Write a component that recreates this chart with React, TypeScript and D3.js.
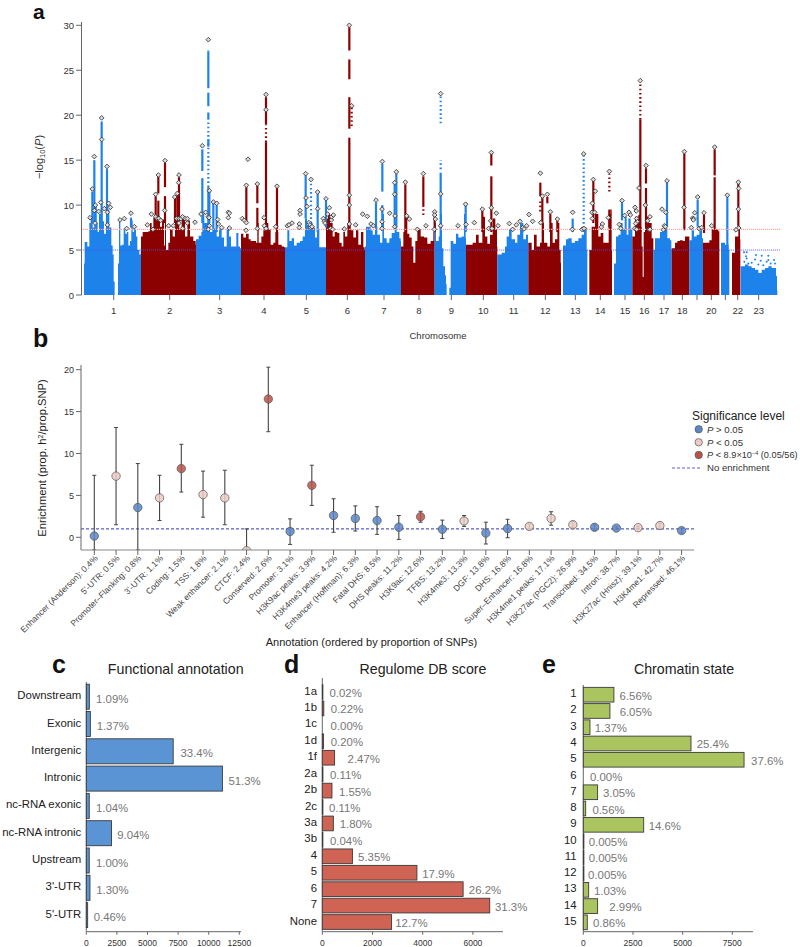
import React from "react";
import * as d3 from "d3";

/* ---------- a: Manhattan data ---------- */
const chromLabels = ["1","2","3","4","5","6","7","8","9","10","11","12","13","14","15","16","17","18","","20","","22","23"];
const chromTicks = [341,509,659,792,919,1042,1152,1257,1354,1450,1541,1636,1726,1801,1875,1933,1992,2047,2091,2134,2176,2213,2276];
const chromEnds = [423,588,723,855,978,1095,1203,1304,1398,1492,1585,1683,1762,1836,1897,1960,2015,2068,2109,2158,2188,2221,2332];
const envelope: [number, number][][] = [
  [[252,3.5],[254,5.9],[262,5.4],[268,8],[272,8.6],[278,7.5],[283,10],[288,8],[293,7],[297,9],[302,9],[307,8.2],[312,6.8],[318,8],[322,9.5],[328,7.5],[334,5.5],[338,4.5],[341,1.5],[344,0],[352,0],[354,3.5],[357,8.3],[361,5.5],[366,5.6],[371,7.3],[376,6.8],[381,7],[385,5.5],[390,6],[394,8.3],[398,7],[402,7.3],[408,6.5],[412,5],[418,4.5],[422,5.2]],
  [[423,6.5],[428,7],[445,7.1],[450,8],[455,7.4],[460,8.6],[470,8.8],[480,7.6],[486,8.4],[492,5.5],[495,9],[498,5],[505,5.8],[510,7.3],[518,6.5],[525,8.4],[532,9],[538,7.3],[545,8.6],[555,6.5],[562,8.3],[570,6.5],[580,6],[587,5.6]],
  [[588,6.2],[596,6.6],[604,7],[607,9],[613,8],[622,8],[630,7],[640,7.4],[650,6.5],[657,7.4],[665,6.4],[672,5.4],[680,7.4],[687,6.5],[693,5.4],[700,5.4],[709,6.9],[715,5.4],[720,5.2]],
  [[723,6.8],[730,6.4],[738,6.8],[746,6.2],[752,6],[760,6],[768,5.8],[772,8],[776,5.8],[784,6.5],[790,7.2],[798,8],[805,7.3],[812,5.6],[820,5.8],[826,7],[835,5.6],[845,5.4],[852,5.3]],
  [[855,5.3],[862,7.2],[868,6],[875,6.3],[882,5.5],[890,5.8],[900,6],[908,6.5],[915,8.5],[921,7.8],[930,8],[938,7.5],[945,6.4],[951,7.3],[958,5.3],[968,5.3],[975,5.3]],
  [[978,8.5],[984,9],[990,8],[998,6.5],[1004,7],[1012,6.9],[1018,5.8],[1025,5.4],[1030,7],[1035,6.5],[1042,8],[1048,8],[1052,7.2],[1060,6.4],[1068,7.2],[1075,5.6],[1083,7],[1090,5.3],[1094,5]],
  [[1095,5.4],[1098,7.6],[1105,7.6],[1112,7.2],[1118,6.7],[1125,7.6],[1132,6.7],[1140,5.8],[1147,9],[1152,6.3],[1160,5.8],[1168,6.3],[1175,6.9],[1184,8],[1190,7],[1198,6.3],[1202,6]],
  [[1203,5.4],[1210,7],[1216,9],[1222,6.8],[1228,6.4],[1235,5.4],[1240,3.6],[1246,6],[1252,7.3],[1262,6.5],[1272,6.4],[1282,5.7],[1292,6],[1300,7],[1303,8]],
  [[1304,8],[1308,6],[1316,6.5],[1322,9],[1326,5.2],[1330,3.2],[1335,2.2],[1338,1.2],[1340,0],[1348,0.8],[1352,6],[1360,5.7],[1368,6.8],[1375,6.4],[1385,6.5],[1392,9],[1397,6.3]],
  [[1398,5.6],[1408,5.6],[1418,5.8],[1428,6.7],[1436,5.8],[1447,8.7],[1455,6.5],[1462,5.7],[1470,6.7],[1478,8.5],[1486,7.3],[1491,5.4]],
  [[1492,4.5],[1505,4.7],[1515,5.4],[1520,6.5],[1527,7.3],[1535,6.2],[1545,5.8],[1552,6.7],[1560,8],[1570,6.2],[1578,6.7],[1584,5.8]],
  [[1585,5.8],[1595,5],[1602,6.7],[1610,5.4],[1620,5.8],[1625,8],[1632,5.8],[1642,5.4],[1650,8],[1658,5.8],[1665,6.2],[1672,8],[1678,5],[1682,3.6]],
  [[1689,5.5],[1698,6.2],[1705,6.3],[1715,5.8],[1725,6],[1735,6.3],[1745,6.7],[1752,7.5],[1760,5]],
  [[1768,5],[1775,7.6],[1785,9],[1795,6.5],[1802,6.9],[1810,5.8],[1820,5.8],[1826,9],[1831,9.5],[1835,5]],
  [[1842,3.5],[1848,6.5],[1855,6.7],[1862,8],[1868,7.3],[1874,8.7],[1880,6.7],[1885,8.5],[1892,7.3]],
  [[1897,6.5],[1905,8.7],[1915,8.9],[1920,7.6],[1925,5.4],[1928,2],[1931,7],[1935,8.7],[1945,8],[1955,6.3]],
  [[1960,5],[1965,6.3],[1972,6.3],[1980,7],[1988,7.3],[1995,7.4],[2002,6.3],[2010,6.1],[2014,5]],
  [[2015,5.2],[2025,5.8],[2032,6],[2040,6.1],[2048,6],[2055,6.5],[2065,6.5]],
  [[2068,6.1],[2075,7.2],[2082,6.5],[2090,6.7],[2098,7.2],[2106,6.3]],
  [[2109,5.8],[2120,5.8],[2128,6.1],[2135,7.3],[2145,7.3],[2155,7.1]],
  [[2163,5.8],[2175,5.6],[2182,5.6],[2186,5]],
  [[2196,4.7],[2205,6.5],[2215,7.3],[2220,6.2]],
  [[2222,3.2],[2235,3.4],[2245,3.2],[2255,3],[2265,2.8],[2275,2.45],[2285,2.8],[2295,3],[2305,3.2],[2315,3],[2322,3],[2328,2.1],[2331,0.5]],
];
const peaksSolid: [number, number, number][] = [
  [283,8,15],[277,8,11.5],[305,8,19.3],[321,7.5,14],[287,8,10],[393,7.5,8.6],[475,8,10.5],[475,11.3,13.2],[495,8,11],[495,12,14.7],[467,8,11],[537,8,13.1],[525,8,10.8],[532,8,11.1],
  [607,8,13],[607,13.8,16.2],[625,23,27.1],[625,21,22.5],[625,19.5,20.3],[625,16.5,17.3],[625,8,12],[628,8,11.5],[640,7,10.2],[650,7,10],
  [739,8,12],[772,7.5,9.7],[772,10.2,12.2],[798,7.5,17],[798,19,22],[831,7,12],[917,8.5,13.3],[953,7,11.3],[978,7.5,10.5],
  [1048,27.2,29.8],[1048,24,26.2],[1048,18.5,22],[1048,7.5,17.5],[1147,11.5,14.6],[1147,7.5,10],[1128,7.5,10.3],[1184,7.5,12.3],[1189,7.5,13.5],
  [1216,7,12.3],[1270,9.8,13.2],[1304,7,9.2],[1322,5,13.6],[1397,7,10],[1447,7,9.4],[1474,14.4,15.8],[1474,9.8,13.2],[1474,7,9.6],[1621,11,12.5],[1627,8,10.9],[1642,10.2,10.9],[1651,7,9],[1672,7,8.3],[1718,7,8.5],
  [1780,8,12.7],[1828,7.5,9.5],[1866,8.3,10.3],[1921,12,19.5],[1921,7,12],[1938,12.4,14.1],[1938,7.6,11.9],[2001,7.6,12.5],[2053,7.2,15.75],[2093,7.6,10.6],[2112,6.9,8.9],[2144,13.3,16.2],[2144,7.2,13.1],[2182,5,10.9],[2215,7.6,12.4],
];
const peaksDotted: [number, number, number][] = [
  [625,12,19.3],[625,27.1,27.2],[1055,18.8,21],[933,8,12.6],[1270,8.9,9.8],[1322,14,15],[1322,19.1,22.3],[1621,9.3,10.7],[1751,7,15.6],[1828,11.5,13.5],[1921,19.5,23.5],[798,17,19],
];
const leadLeft: [number, number][] = [
  [270,8.6],[277,11.8],[283,15.4],[283,9.4],[286,10],[285,8],[296,9.3],[302,10.3],[305,19.7],[305,17.3],[313,9.6],[321,14.3],[322,9.2],[322,7.8],[326,10.2],[331,9.75],[360,8.35],[373,8.5],[380,7.4],[393,9.1],[403,7.6],
  [442,7.8],[454,9],[459,7.3],[467,11.2],[467,8.7],[475,13.35],[472,8.5],[477,8.5],[482,8.3],[495,14.95],[494,9.4],[506,7.7],[520,7.7],[524,10.9],[532,11.3],[537,13.35],[536,12.5],[530,8.5],[537,8.5],[537,8],[543,8.5],[548,8.7],[548,7.4],[555,8.5],[562,8.5],[562,8],[585,8.1],
  [603,9],[607,16.6],[617,9.2],[625,28.4],[625,8.7],[627,8.6],[628,11.6],[628,7.7],[625,7.3],[640,10.35],[650,10.2],[653,8.4],[655,7.9],[665,7.5],[685,9.2],[688,9.1],[685,8.6],[688,7.45],
  [727,8.5],[733,8.3],[739,8.05],[739,12.2],[738,7.2],[744,15.1],[772,12.35],[772,7.4],[792,8.6],[798,22.3],[798,20.6],[793,7.7],[798,7.4],[827,7.6],[831,12.1],
  [862,7.7],[867,7.8],[876,8],[898,7.9],[898,7.5],[900,9.4],[900,9],[917,13.5],[918,10.8],[921,9.85],[927,8.05],[930,7.8],[932,7.5],[936,7.6],[933,12.85],[953,11.45],[953,9.6],
  [970,8.5],[973,8.2],[975,8],[978,10.7],[983,9],[988,9.7],[994,8.35],[995,8.7],[1000,8.9],[992,7.4],[998,7.3],[1033,7.35],[1048,30],[1055,21.05],[1048,11.1],[1048,10],[1048,7.9],[1067,7.8],
  [1088,9],[1102,8.75],[1113,7.9],[1120,7.7],[1128,10.55],[1147,14.85],[1146,9.55],[1146,8.15],[1146,7.4],[1169,9.1],[1184,12.5],[1189,13.7],[1184,11.2],[1185,8.8],[1184,7.6],
];
const leadRight: [number, number][] = [
  [1216,12.55],[1220,8.8],[1228,8.45],[1252,7.3],[1270,13.5],[1278,7.7],[1304,9.25],[1304,8.9],[1306,8.45],[1303,7.3],
  [1322,22.4],[1322,11.25],[1322,7.7],[1374,7.7],[1397,10.1],[1398,7.85],
  [1423,8.05],[1447,9.55],[1474,15.85],[1474,9.7],[1472,8.25],[1466,7.4],[1476,7.4],[1489,9.1],[1494,7.7],
  [1528,7.95],[1538,7.3],[1549,7.8],[1560,8.2],[1568,7.5],[1572,7.35],[1580,7.7],[1587,8.95],[1598,8.2],
  [1621,13.55],[1622,8.05],[1627,11],[1642,11.2],[1651,9.25],[1672,8.45],
  [1718,9.2],[1717,7.3],[1746,7.3],[1751,15.7],[1752,7.4],
  [1780,12.85],[1777,10.2],[1786,11.55],[1776,9.2],[1784,9.2],[1777,8.5],[1807,7.9],[1804,7.55],[1828,13.75],[1825,8.6],
  [1866,10.5],[1858,7.85],[1862,7.4],[1874,8.85],[1887,9.2],[1891,8.9],
  [1905,9.75],[1909,9.35],[1917,11.9],[1921,23.85],[1910,8.5],[1912,8.15],[1907,7.95],[1904,7.4],[1910,7.3],[1938,14.4],[1936,10],[1950,8.7],[1943,8.25],[1947,7.3],[1950,7.3],
  [1986,9.55],[1997,9.2],[2001,12.7],[1993,7.7],[1990,7.25],[1996,7.6],
  [2053,15.95],[2052,9.75],
  [2074,7.5],[2078,8.55],[2081,8.5],[2084,9.15],[2093,10.9],[2080,8.35],[2097,7.4],[2105,7.5],[2112,9.15],
  [2135,7.7],[2144,16.45],[2182,11.1],
  [2215,12.55],[2216,11.85],[2215,9.55],[2216,7.45],[2208,7.25],
];
const xChrom23Dots: [number, number][] = [[2232,4.75],[2240,4.75],[2240,4.05],[2233,3.7],[2268,4.45],[2285,4.37],[2305,4.37],[2305,3.9],[2322,3.9],[2282,3.8],[2265,3.95],[2245,3.5],[2300,3.7],[2238,4.3],[2255,3.6],[2275,3.4],[2290,3.3],[2312,3.5],[2325,3.5]];
const yTicksA = [0,5,10,15,20,25,30];

/* ---------- b: enrichment data ---------- */
const annotLabels = ["Enhancer (Anderson): 0.4%","5'-UTR: 0.5%","Promoter\u2013Flanking: 0.8%","3'-UTR: 1.1%","Coding: 1.5%","TSS: 1.8%","Weak enhancer: 2.1%","CTCF: 2.4%","Conserved: 2.6%","Promoter: 3.1%","H3K9ac peaks: 3.9%","H3K4me3 peaks: 4.2%","Enhancer (Hoffman): 6.3%","Fatal DHS: 8.5%","DHS peaks: 11.2%","H3K9ac: 12.6%","TFBS: 13.2%","H3K4me3: 13.3%","DGF: 13.8%","DHS: 16.8%","Super\u2013Enhancer: 16.8%","H3K4me1 peaks: 17.1%","H3K27ac (PGC2): 26.9%","Transcribed: 34.5%","Intron: 38.7%","H3K27ac (Hnisz): 39.1%","H3K4me1: 42.7%","Repressed: 46.1%"];
const enrichMean = [0.15,7.3,3.55,4.7,8.2,5.1,4.7,-1.6,16.5,0.7,6.2,2.6,2.25,2,1.2,2.45,0.95,1.95,0.5,1.05,1.3,2.25,1.5,1.2,1.1,1.15,1.4,0.8];
const enrichLow = [-1.5,1.5,-1.5,2,5.4,2.4,1.5,-1.5,12.6,-0.85,3.8,0.6,0.75,0.35,-0.25,1.8,-0.15,1.3,-0.8,-0.05,1,1.45,1.15,0.85,0.95,1,1.05,0.5];
const enrichHigh = [7.4,13.1,8.8,7.4,11.1,7.9,8,1,20.3,2.2,8.6,4.6,3.75,3.65,2.6,3.1,2.05,2.6,1.8,2.15,1.6,3.05,1.9,1.5,1.25,1.3,1.7,1.1];
const enrichSig = [0,1,0,1,2,1,1,1,2,0,2,0,0,0,0,2,0,1,0,0,1,1,1,0,0,1,1,0];
const sigColors = ["#5b86c8","#eccbc7","#b9544c"];
const yTicksB = [0,5,10,15,20];

/* ---------- c, d, e: bars ---------- */
const funcCats = ["Downstream","Exonic","Intergenic","Intronic","nc-RNA exonic","nc-RNA intronic","Upstream","3'-UTR","5'-UTR"];
const funcVals = [250,330,7100,11120,240,2060,240,300,110];
const funcPct = ["1.09%","1.37%","33.4%","51.3%","1.04%","9.04%","1.00%","1.30%","0.46%"];
const funcTicks = [0,2500,5000,7500,10000,12500];
const regCats = ["1a","1b","1c","1d","1f","2a","2b","2c","3a","3b","4","5","6","7","None"];
const regVals = [8,60,0,50,490,25,385,25,440,8,1200,3770,5610,6670,2760];
const regPct = ["0.02%","0.22%","0.00%","0.20%","2.47%","0.11%","1.55%","0.11%","1.80%","0.04%","5.35%","17.9%","26.2%","31.3%","12.7%"];
const regTicks = [0,2000,4000,6000];
const chromCats = ["1","2","3","4","5","6","7","8","9","10","11","12","13","14","15"];
const chromVals = [1540,1340,335,5420,8090,0,720,120,3040,5,5,5,270,720,200];
const chromPct = ["6.56%","6.05%","1.37%","25.4%","37.6%","0.00%","3.05%","0.56%","14.6%","0.005%","0.005%","0.005%","1.03%","2.99%","0.86%"];
const chromBarTicks = [0,2500,5000,7500];

/* ---------- layout ---------- */
const FONT = "'Liberation Sans', Arial, Helvetica, sans-serif";
const INK = "#333";
const x = d3.scaleLinear().domain([0, 2400]).range([0, 800]);
const yA = d3.scaleLinear().domain([0, 30]).range([295, 25.3]);
const xB = d3.scalePoint<number>().domain(d3.range(28)).range([94.3, 681.6]);
const yB = d3.scaleLinear().domain([0, 20]).range([537.3, 369.7]);

const areaFor = (pts: [number, number][], end: number) =>
  d3.area<[number, number]>().x(d => x(d[0])).y0(yA(0)).y1(d => yA(d[1])).curve(d3.curveStepAfter)([...pts, [end, pts[pts.length - 1][1]]]) || "";
const colorAt = (pos: number) => (d3.bisectLeft(chromEnds, pos) % 2 === 0 ? "#1e82eb" : "#8b0000");
const diamond = d3.symbol().type(d3.symbolSquare).size(11)() || "";

function PanelBars(p: {
  cats: string[]; vals: number[]; pct: string[]; ticks: number[]; title: string; titleX: number; letter: string; letterX: number;
  x0: number; pxPerK: number; axisEnd: number; top: number; first: number; step: number; barH: number; fill: string;
  labelRight: number; gaps: number[]; catDy: number; valDy: number;
}) {
  const sx = d3.scaleLinear().domain([0, (p.axisEnd - p.x0) / p.pxPerK * 1000]).range([p.x0, p.axisEnd]);
  const sy = d3.scaleBand<number>().domain(d3.range(p.cats.length))
    .range([p.first - p.step / 2, p.first - p.step / 2 + p.step * p.cats.length]).paddingInner(1 - p.barH / p.step).paddingOuter((1 - p.barH / p.step) / 2);
  const bot = 931.7;
  return (
    <g>
      <text x={p.letterX} y={673} fontSize={25} fontWeight="bold" fill="#111">{p.letter}</text>
      <text x={p.titleX} y={674} textAnchor="middle" fontSize={14.2} fill="#222">{p.title}</text>
      <line x1={p.x0} x2={p.x0} y1={p.top} y2={bot} stroke="#666" strokeWidth={1} />
      <line x1={p.x0} x2={p.axisEnd} y1={bot} y2={bot} stroke="#666" strokeWidth={1} />
      {p.ticks.map(t => (
        <g key={t}>
          <line x1={sx(t)} x2={sx(t)} y1={bot} y2={bot + 3} stroke="#666" />
          <text x={sx(t)} y={946} textAnchor="middle" fontSize={8.5} fill={INK}>{t}</text>
        </g>
      ))}
      {p.cats.map((c, i) => {
        const cy = (sy(i) || 0) + sy.bandwidth() / 2;
        return (
          <g key={c}>
            {p.vals[i] > 0 && (
              <rect x={p.x0} y={sy(i)} width={Math.max(0.6, sx(p.vals[i]) - p.x0)} height={sy.bandwidth()} fill={p.fill} stroke="#3a3a3a" strokeWidth={0.9} />
            )}
            <text x={p.labelRight} y={cy + p.catDy} textAnchor="end" fontSize={11.4} fill="#222">{c}</text>
            <text x={sx(p.vals[i]) + p.gaps[i]} y={cy + p.valDy} fontSize={11.4} fill="#777">{p.pct[i]}</text>
          </g>
        );
      })}
    </g>
  );
}

const gapsC = [6.7,6.3,7.3,6,6.7,5.7,6.7,6.3,6];
const gapsD = [7,7,8.3,7.2,13,7,7,6,6.3,7.5,5.7,5.3,5.7,5.3,3.7];
const gapsE = [5.7,9.7,4.7,5.7,7,6.7,5.3,6.7,5,5.3,5.3,4.7,5.3,11.7,5.7];

export default function App() {
  const legendY = [429.3, 442.3, 455];
  return (
    <svg width={800} height={947} viewBox="0 0 800 947" style={{ position: "absolute", left: 0, top: 0, background: "#fff" }} fontFamily={FONT}>
      <defs>
        <clipPath id="plotB"><rect x={70} y={360} width={640} height={190} /></clipPath>
      </defs>

      {/* a */}
      <text x={33} y={19} fontSize={21} fontWeight="bold" fill="#111">a</text>
      {envelope.map((pts, i) => (
        <path key={i} d={areaFor(pts, chromEnds[i])} fill={i % 2 === 0 ? "#1e82eb" : "#8b0000"} />
      ))}
      {peaksSolid.map((p, i) => (
        <line key={i} x1={x(p[0])} x2={x(p[0])} y1={yA(p[1])} y2={yA(p[2])} stroke={colorAt(p[0])} strokeWidth={2.2} />
      ))}
      {peaksDotted.map((p, i) => (
        <line key={i} x1={x(p[0])} x2={x(p[0])} y1={yA(p[1])} y2={yA(p[2])} stroke={colorAt(p[0])} strokeWidth={2.2} strokeDasharray="1.6 2.6" />
      ))}
      {xChrom23Dots.map((d, i) => <circle key={i} cx={x(d[0])} cy={yA(d[1])} r={1} fill="#1e82eb" />)}
      <line x1={81} x2={780} y1={yA(7.3)} y2={yA(7.3)} stroke="#ffa8a8" strokeWidth={1.2} strokeDasharray="1.2 0.8" />
      <line x1={81} x2={780} y1={yA(5)} y2={yA(5)} stroke="#4f4ff0" strokeOpacity={0.75} strokeWidth={1} strokeDasharray="1.2 0.8" />
      {[...leadLeft, ...leadRight].map((d, i) => (
        <path key={i} d={diamond} transform={`translate(${x(d[0])},${yA(d[1])}) rotate(45)`} fill="#dcdcdc" stroke="#333" strokeWidth={0.8} />
      ))}
      <line x1={81.5} x2={81.5} y1={22} y2={295} stroke="#666" />
      {yTicksA.map(t => (
        <g key={t}>
          <line x1={76} x2={81.5} y1={yA(t)} y2={yA(t)} stroke="#666" />
          <text x={74} y={yA(t) + 3.5} textAnchor="end" fontSize={9.5} fill={INK}>{t}</text>
        </g>
      ))}
      {chromTicks.map((t, i) => (
        <g key={t}>
          <line x1={x(t)} x2={x(t)} y1={295} y2={300} stroke="#666" />
          <text x={x(t)} y={314} textAnchor="middle" fontSize={9.5} fill={INK}>{chromLabels[i]}</text>
        </g>
      ))}
      <text x={438} y={339} textAnchor="middle" fontSize={9.5} fill={INK}>Chromosome</text>
      <text transform="translate(43,157) rotate(-90)" textAnchor="middle" fontSize={11} fill={INK}>
        {"\u2212log"}<tspan fontSize={7.5} dy={2}>10</tspan><tspan dy={-2}>(</tspan><tspan fontStyle="italic">P</tspan>)
      </text>

      {/* b */}
      <text x={33} y={347} fontSize={25} fontWeight="bold" fill="#111">b</text>
      <line x1={81} x2={694} y1={yB(1)} y2={yB(1)} stroke="#5a60c4" strokeWidth={1.1} strokeDasharray="3 2" />
      <g clipPath="url(#plotB)">
        {annotLabels.map((_, i) => {
          const cx = xB(i) || 0;
          return (
            <g key={i}>
              <line x1={cx} x2={cx} y1={yB(enrichLow[i])} y2={yB(enrichHigh[i])} stroke="#444" strokeWidth={1.1} />
              <line x1={cx - 2} x2={cx + 2} y1={yB(enrichHigh[i])} y2={yB(enrichHigh[i])} stroke="#444" strokeWidth={1} />
              <line x1={cx - 2} x2={cx + 2} y1={yB(enrichLow[i])} y2={yB(enrichLow[i])} stroke="#444" strokeWidth={1} />
              <circle cx={cx} cy={yB(enrichMean[i])} r={4.2} fill={sigColors[enrichSig[i]]} fillOpacity={0.85} stroke="#555" strokeWidth={0.7} />
            </g>
          );
        })}
      </g>
      <line x1={81} x2={81} y1={365} y2={550} stroke="#666" />
      <line x1={81} x2={694} y1={550} y2={550} stroke="#888" strokeWidth={1.2} />
      {yTicksB.map(t => (
        <g key={t}>
          <line x1={76} x2={81} y1={yB(t)} y2={yB(t)} stroke="#666" />
          <text x={74} y={yB(t) + 3.3} textAnchor="end" fontSize={9} fill={INK}>{t}</text>
        </g>
      ))}
      {annotLabels.map((l, i) => {
        const cx = xB(i) || 0;
        return (
          <g key={l}>
            <line x1={cx} x2={cx} y1={550} y2={555} stroke="#666" />
            <text transform={`translate(${cx + 4},${559}) rotate(-45)`} textAnchor="end" fontSize={8.5} fill="#444">{l}</text>
          </g>
        );
      })}
      <text x={371.5} y={646} textAnchor="middle" fontSize={11} fill="#222">Annotation (ordered by proportion of SNPs)</text>
      <text transform="translate(46,458) rotate(-90)" textAnchor="middle" fontSize={11.2} fill="#222">
        Enrichment (prop. h<tspan fontSize={7} dy={-3}>2</tspan><tspan dy={3}>/prop.SNP)</tspan>
      </text>

      {/* legend */}
      <text x={692} y={420} fontSize={12} fill="#222">Significance level</text>
      {legendY.map((ly, i) => <circle key={i} cx={698.7} cy={ly} r={3.7} fill={sigColors[i]} stroke="#555" strokeWidth={0.7} />)}
      <text x={707} y={432.5} fontSize={9.6} fill="#333"><tspan fontStyle="italic">P</tspan> &gt; 0.05</text>
      <text x={707} y={445.5} fontSize={9.6} fill="#333"><tspan fontStyle="italic">P</tspan> &lt; 0.05</text>
      <text x={707} y={458} fontSize={9.2} fill="#333"><tspan fontStyle="italic">P</tspan> &lt; 8.9×10<tspan fontSize={5.5} dy={-3}>−4</tspan><tspan dy={3}> (0.05/56)</tspan></text>
      <line x1={672} x2={702} y1={468} y2={468} stroke="#5a60c4" strokeWidth={1.1} strokeDasharray="3 2" />
      <text x={707} y={471.3} fontSize={9.6} fill="#333">No enrichment</text>

      <PanelBars cats={funcCats} vals={funcVals} pct={funcPct} ticks={funcTicks} title="Functional annotation" titleX={175.7} letter="c" letterX={52}
        x0={86.3} pxPerK={12.24} axisEnd={241} top={682} first={696.7} step={27.3} barH={25} fill="#5b94d4" labelRight={81.3} gaps={gapsC} catDy={2.5} valDy={6} />
      <PanelBars cats={regCats} vals={regVals} pct={regPct} ticks={regTicks} title="Regulome DB score" titleX={423} letter="d" letterX={284}
        x0={322.3} pxPerK={25.1} axisEnd={503} top={678} first={692} step={16.43} barH={14.7} fill="#cf6354" labelRight={317} gaps={gapsD} catDy={2.5} valDy={5} />
      <PanelBars cats={chromCats} vals={chromVals} pct={chromPct} ticks={chromBarTicks} title="Chromatin state" titleX={684} letter="e" letterX={542}
        x0={583.3} pxPerK={19.87} axisEnd={753} top={685} first={694.7} step={16.26} barH={14.7} fill="#aac55f" labelRight={576.7} gaps={gapsE} catDy={2.5} valDy={5} />
    </svg>
  );
}
